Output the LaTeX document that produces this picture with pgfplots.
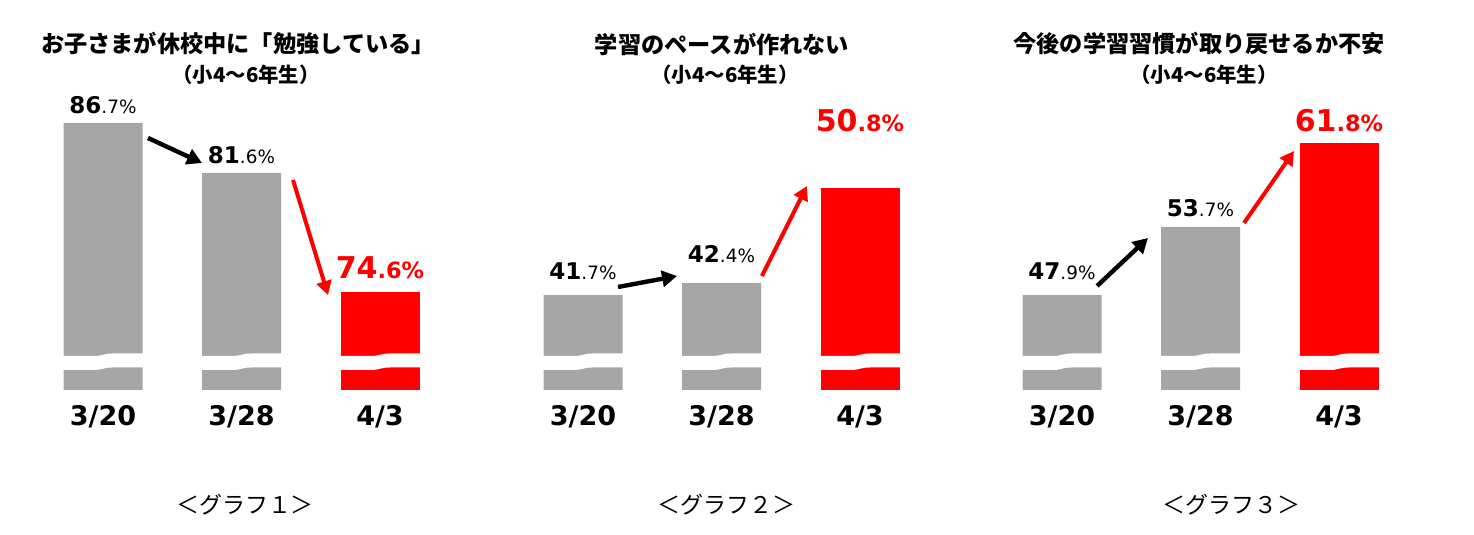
\documentclass[border=0pt]{standalone}
\usepackage{pgfplots}
\pgfplotsset{compat=1.18}
\usepackage{pgfplotstable}
\usetikzlibrary{arrows.meta}
\usepackage{fontspec}
\setmainfont{DejaVu Sans}
\newfontfamily\jp{Noto Sans CJK JP}
\definecolor{barg}{HTML}{A6A6A6}
\definecolor{barr}{HTML}{FF0000}

% x: category position, h: drawn bar height (broken scale),
% lbl: value label "integer:decimal:label offset (pt)"  -> 86.7% etc.
\pgfplotstableread{
x h lbl
0 267 86:7:4.5
1 217 81:6:4.5
2 98 74:6:6.5
}\tA
\pgfplotstableread{
x h lbl
0 95 41:7:7.5
1 107 42:4:10
2 202 50:8:28
}\tB
\pgfplotstableread{
x h lbl
0 95 47:9:7.5
1 163 53:7:5
2 247 61:8:5.5
}\tC

\def\graylbl#1:#2:#3\relax{\raisebox{#3pt}{{\bfseries\fontsize{11.5}{12}\selectfont#1}{\fontsize{9.2}{10}\selectfont.#2\%}}}
\def\redlbl#1:#2:#3\relax{\raisebox{#3pt}{{\bfseries\fontsize{15}{16}\selectfont#1\fontsize{11.2}{12}\selectfont.#2\%}}}

\newcommand\breaks{%
\fill[white] (axis cs:-0.32,34) -- (axis cs:-0.07,34) .. controls (axis cs:0,34) and (axis cs:0,36.5) .. (axis cs:0.07,36.5) -- (axis cs:0.32,36.5) -- (axis cs:0.32,22.5) -- (axis cs:0.07,22.5) .. controls (axis cs:0,22.5) and (axis cs:0,20) .. (axis cs:-0.07,20) -- (axis cs:-0.32,20) -- cycle;
\fill[white] (axis cs:0.68,34) -- (axis cs:0.93,34) .. controls (axis cs:1,34) and (axis cs:1,36.5) .. (axis cs:1.07,36.5) -- (axis cs:1.32,36.5) -- (axis cs:1.32,22.5) -- (axis cs:1.07,22.5) .. controls (axis cs:1,22.5) and (axis cs:1,20) .. (axis cs:0.93,20) -- (axis cs:0.68,20) -- cycle;
\fill[white] (axis cs:1.68,34) -- (axis cs:1.93,34) .. controls (axis cs:2,34) and (axis cs:2,36.5) .. (axis cs:2.07,36.5) -- (axis cs:2.32,36.5) -- (axis cs:2.32,22.5) -- (axis cs:2.07,22.5) .. controls (axis cs:2,22.5) and (axis cs:2,20) .. (axis cs:1.93,20) -- (axis cs:1.68,20) -- cycle;
}

\tikzset{
  blackarrow/.style={line width=2.2pt, black, -{Triangle[length=7.5pt,width=8pt]}},
  redarrow/.style={line width=2pt, barr, -{Triangle[length=7pt,width=7.5pt]}},
}

\pgfplotsset{
  panel/.style={
    anchor=south west,
    x=69.25pt, y=0.5pt,
    xmin=-0.6, xmax=2.6, ymin=0, ymax=300,
    enlargelimits=false, clip=false,
    axis line style={draw=none},
    major tick length=0pt,
    ytick=\empty,
    xtick={0,1,2},
    xticklabels={3/20,3/28,4/3},
    xticklabel style={font=\bfseries\fontsize{13.5}{14}\selectfont, anchor=north, inner sep=0pt, yshift=-7.5pt},
  },
  common/.style={
    ybar, bar width=39.5pt, bar shift=0pt, draw=none,
    point meta=explicit symbolic,
  },
  grayplot/.style={common, fill=barg, restrict x to domain=-0.5:1.5,
    nodes near coords={\expandafter\graylbl\pgfplotspointmeta\relax},
    every node near coord/.append style={anchor=base, inner sep=0pt, text=black}},
  redplot/.style={common, fill=barr, restrict x to domain=1.5:2.5,
    nodes near coords={\expandafter\redlbl\pgfplotspointmeta\relax},
    every node near coord/.append style={anchor=base, inner sep=0pt, text=barr}},
}

\begin{document}
\begin{tikzpicture}
\path[use as bounding box] (0,0) rectangle (737pt,267.5pt);

% Panel 1
\begin{axis}[panel, at={(9.95pt,72.5pt)}]
\addplot[grayplot] table[x=x,y=h,meta=lbl] {\tA};
\addplot[redplot] table[x=x,y=h,meta=lbl] {\tA};
\breaks
\draw[blackarrow] (axis cs:0.325,252) -- (axis cs:0.715,227);
\draw[redarrow] (axis cs:1.372,210) -- (axis cs:1.625,95);
\end{axis}

% Panel 2
\begin{axis}[panel, at={(249.95pt,72.5pt)}]
\addplot[grayplot] table[x=x,y=h,meta=lbl] {\tB};
\addplot[redplot] table[x=x,y=h,meta=lbl] {\tB};
\breaks
\draw[blackarrow] (axis cs:0.253,103) -- (axis cs:0.679,114);
\draw[redarrow] (axis cs:1.292,114) -- (axis cs:1.617,204);
\end{axis}

% Panel 3
\begin{axis}[panel, at={(489.45pt,72.5pt)}]
\addplot[grayplot] table[x=x,y=h,meta=lbl] {\tC};
\addplot[redplot] table[x=x,y=h,meta=lbl] {\tC};
\breaks
\draw[blackarrow] (axis cs:0.253,104) -- (axis cs:0.621,152);
\draw[redarrow] (axis cs:1.314,167) -- (axis cs:1.675,239);
\end{axis}

% Titles
\node[font=\jp\bfseries\fontsize{11.6}{12}\selectfont] at (119pt,245.5pt) {お子さまが休校中に「勉強している」};
\node[font=\jp\bfseries\fontsize{10.2}{11}\selectfont] at (123pt,230pt) {（小4～6年生）};
\node[font=\jp\bfseries\fontsize{11.6}{12}\selectfont] at (361pt,245.5pt) {学習のペースが作れない};
\node[font=\jp\bfseries\fontsize{10.2}{11}\selectfont] at (362.5pt,230pt) {（小4～6年生）};
\node[font=\jp\bfseries\fontsize{11.6}{12}\selectfont] at (599.5pt,245.5pt) {今後の学習習慣が取り戻せるか不安};
\node[font=\jp\bfseries\fontsize{10.2}{11}\selectfont] at (602pt,230pt) {（小4～6年生）};

% Captions
\node[font=\jp\fontsize{11.5}{12}\selectfont] at (122.5pt,15pt) {＜グラフ１＞};
\node[font=\jp\fontsize{11.5}{12}\selectfont] at (363pt,15pt) {＜グラフ２＞};
\node[font=\jp\fontsize{11.5}{12}\selectfont] at (615.5pt,15pt) {＜グラフ３＞};
\end{tikzpicture}
\end{document}
